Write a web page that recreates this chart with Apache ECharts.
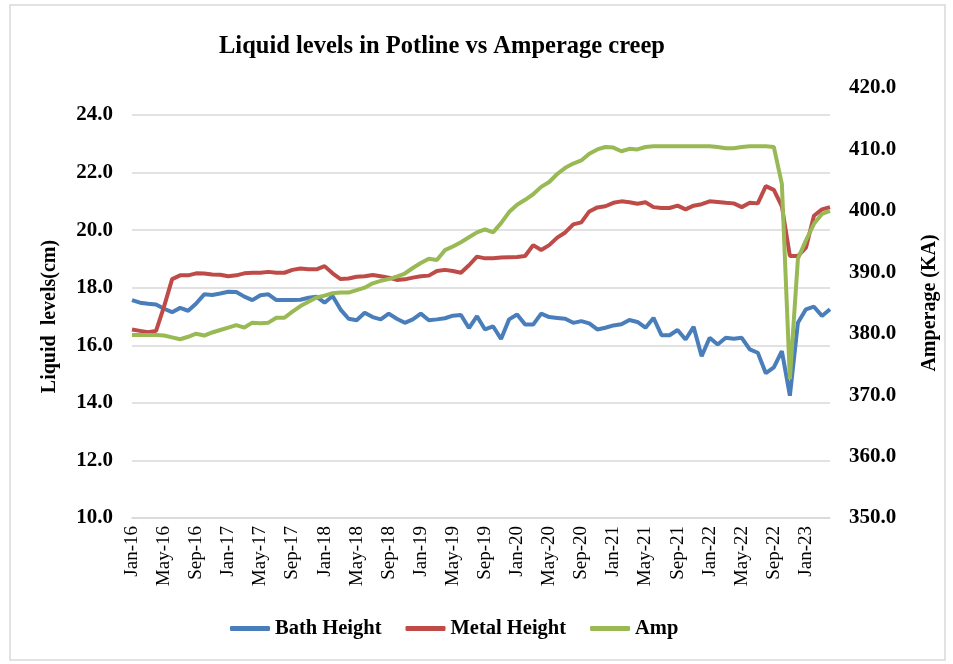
<!DOCTYPE html>
<html>
<head>
<meta charset="utf-8">
<script src="https://cdn.jsdelivr.net/npm/echarts@6/dist/echarts.min.js"></script>
<style>
  html, body { margin: 0; padding: 0; background: #fff; }
  #chart { width: 953px; height: 664px; }
</style>
</head>
<body>
<div id="chart"></div>
<script>
// meses Jan-16 .. Apr-23
const monthNames = ["Jan", "Feb", "Mar", "Apr", "May", "Jun", "Jul", "Aug", "Sep", "Oct", "Nov", "Dec"];
const years = ["16", "17", "18", "19", "20", "21", "22", "23"];

const bathHeight = [
  17.57, 17.48, 17.44, 17.42, 17.27, 17.15, 17.30, 17.20, 17.45, 17.77, 17.75, 17.80,
  17.86, 17.85, 17.69, 17.57, 17.74, 17.77, 17.57, 17.57, 17.57, 17.58, 17.65, 17.69,
  17.48, 17.71, 17.24, 16.92, 16.87, 17.13, 16.98, 16.90, 17.10, 16.92, 16.78, 16.90,
  17.10, 16.87, 16.90, 16.94, 17.03, 17.05, 16.60, 17.01, 16.55, 16.66, 16.22, 16.90,
  17.07, 16.72, 16.72, 17.10, 16.98, 16.95, 16.92, 16.78, 16.84, 16.76, 16.55, 16.61,
  16.69, 16.73, 16.88, 16.81, 16.61, 16.95, 16.35, 16.35, 16.53, 16.20, 16.64, 15.62,
  16.26, 16.03, 16.26, 16.23, 16.26, 15.86, 15.74, 15.03, 15.23, 15.80, 14.25, 16.78,
  17.25, 17.34, 17.02, 17.25
];

const metalHeight = [
  16.55, 16.50, 16.45, 16.50, 17.35, 18.30, 18.43, 18.43, 18.50, 18.49, 18.46, 18.45,
  18.40, 18.43, 18.50, 18.52, 18.52, 18.55, 18.52, 18.52, 18.62, 18.67, 18.64, 18.64,
  18.75, 18.50, 18.30, 18.32, 18.38, 18.40, 18.44, 18.40, 18.35, 18.27, 18.29, 18.35,
  18.40, 18.42, 18.58, 18.62, 18.58, 18.52, 18.78, 19.08, 19.02, 19.02, 19.05, 19.06,
  19.07, 19.10, 19.48, 19.31, 19.48, 19.74, 19.92, 20.20, 20.27, 20.65, 20.79, 20.83,
  20.95, 21.00, 20.97, 20.92, 20.97, 20.80, 20.77, 20.77, 20.85, 20.72, 20.85, 20.90,
  21.00, 20.98, 20.95, 20.93, 20.80, 20.95, 20.93, 21.53, 21.40, 20.83, 19.10, 19.10,
  19.39, 20.50, 20.72, 20.80
];

const amp = [
  379.8, 379.8, 379.8, 379.8, 379.7, 379.4, 379.1, 379.5, 380.0, 379.7, 380.2, 380.6,
  381.0, 381.4, 381.0, 381.8, 381.7, 381.8, 382.6, 382.6, 383.6, 384.5, 385.2, 385.9,
  386.2, 386.6, 386.7, 386.7, 387.1, 387.5, 388.2, 388.6, 388.9, 389.3, 389.8, 390.7,
  391.5, 392.2, 392.0, 393.6, 394.2, 394.9, 395.7, 396.5, 397.0, 396.5, 398.0, 399.8,
  401.0, 401.8, 402.7, 403.9, 404.7, 406.0, 407.0, 407.7, 408.2, 409.3, 410.0, 410.4,
  410.3, 409.7, 410.1, 410.0, 410.4, 410.5, 410.5, 410.5, 410.5, 410.5, 410.5, 410.5,
  410.5, 410.4, 410.2, 410.2, 410.4, 410.5, 410.5, 410.5, 410.4, 404.4, 372.6, 392.2,
  395.2, 397.9, 399.5, 400.0
];

// etiquetas de categoria, una por mes
const categories = [];
years.forEach((y) => {
  monthNames.forEach((m) => {
    if (categories.length < bathHeight.length) categories.push(m + "-" + y);
  });
});

const serif = "'Liberation Serif', 'Times New Roman', serif";
const gridPos = { left: 132, right: 123, bottom: 146 };

var myChart = echarts.init(document.getElementById("chart"));

var option = {
  backgroundColor: "#fff",
  animation: false,
  graphic: [
    {
      type: "rect",
      shape: { x: 10, y: 5, width: 935, height: 655 },
      style: { fill: "none", stroke: "#d9d9d9", lineWidth: 1.5 },
      silent: true,
    },
  ],
  title: {
    text: "Liquid levels in Potline vs Amperage creep",
    left: 214,
    top: 29,
    textStyle: { fontFamily: serif, fontWeight: "bold", fontSize: 24.5, color: "#000" },
  },
  legend: {
    bottom: 20,
    left: 225,
    icon: "roundRect",
    itemWidth: 40,
    itemHeight: 5,
    itemGap: 24,
    itemTextGap: 3,
    selectedMode: false,
    textStyle: { fontFamily: serif, fontWeight: "bold", fontSize: 20.5, color: "#000" },
    data: ["Bath Height", "Metal Height", "Amp"],
  },
  grid: [
    { ...gridPos, top: 88 },  // eje derecho (Amp) + eje x visible
    { ...gridPos, top: 115 }, // eje izquierdo (niveles)
  ],
  xAxis: [
    {
      type: "category",
      gridIndex: 0,
      data: categories,
      boundaryGap: false,
      axisLine: { lineStyle: { color: "#d9d9d9", width: 1.5 } },
      axisTick: { show: false },
      axisLabel: {
        interval: 3,
        rotate: 90,
        margin: 8,
        fontFamily: serif,
        fontSize: 19,
        color: "#000",
      },
    },
    {
      type: "category",
      gridIndex: 1,
      data: categories,
      boundaryGap: false,
      show: false,
    },
  ],
  yAxis: [
    {
      type: "value",
      gridIndex: 1,
      position: "left",
      min: 10,
      max: 24,
      interval: 2,
      name: "Liquid  levels(cm)",
      nameLocation: "middle",
      nameRotate: 90,
      nameGap: 72,
      nameTextStyle: { fontFamily: serif, fontWeight: "bold", fontSize: 20, color: "#000" },
      axisLine: { show: false },
      axisTick: { show: false },
      axisLabel: {
        margin: 19,
        fontFamily: serif,
        fontWeight: "bold",
        fontSize: 21,
        color: "#000",
        formatter: (v) => v.toFixed(1),
      },
      splitLine: { lineStyle: { color: "#d9d9d9", width: 1.5 } },
    },
    {
      type: "value",
      gridIndex: 0,
      position: "right",
      min: 350,
      max: 420,
      interval: 10,
      name: "Amperage (KA)",
      nameLocation: "middle",
      nameRotate: 90,
      nameGap: 90,
      nameTextStyle: { fontFamily: serif, fontWeight: "bold", fontSize: 20, color: "#000" },
      axisLine: { show: false },
      axisTick: { show: false },
      axisLabel: {
        margin: 19,
        fontFamily: serif,
        fontWeight: "bold",
        fontSize: 21,
        color: "#000",
        formatter: (v) => v.toFixed(1),
      },
      splitLine: { show: false },
    },
  ],
  series: [
    {
      name: "Bath Height",
      type: "line",
      xAxisIndex: 1,
      yAxisIndex: 0,
      data: bathHeight,
      symbol: "none",
      color: "#4a7ebb",
      lineStyle: { width: 4, color: "#4a7ebb" },
      z: 3,
    },
    {
      name: "Metal Height",
      type: "line",
      xAxisIndex: 1,
      yAxisIndex: 0,
      data: metalHeight,
      symbol: "none",
      color: "#be4b48",
      lineStyle: { width: 4, color: "#be4b48" },
      z: 4,
    },
    {
      name: "Amp",
      type: "line",
      xAxisIndex: 0,
      yAxisIndex: 1,
      data: amp,
      symbol: "none",
      color: "#98b954",
      lineStyle: { width: 4, color: "#98b954" },
      z: 5,
    },
  ],
};

myChart.setOption(option);
</script>
</body>
</html>
